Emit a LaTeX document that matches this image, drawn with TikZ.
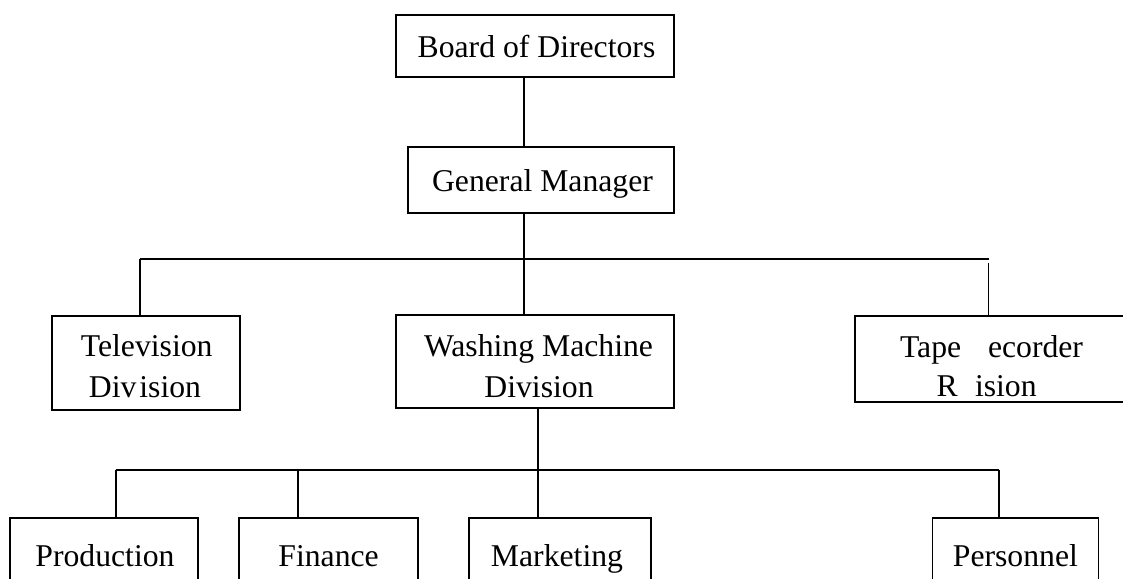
\documentclass[tikz,border=0pt]{standalone}
\usepackage{fontspec}
\setmainfont{Liberation Serif}
\begin{document}
\begin{tikzpicture}[x=1pt,y=-1pt,
  box/.style={draw=black, line width=1.8pt, rectangle, inner sep=0pt, outer sep=0pt},
  lbl/.style={inner sep=0pt, outer sep=0pt, anchor=base, font=\fontsize{31.7}{40.5}\selectfont},
  lblw/.style={inner sep=0pt, outer sep=0pt, anchor=base west, font=\fontsize{31.7}{40.5}\selectfont},
  conn/.style={draw=black, line width=1.8pt}]
\path[use as bounding box] (0,0) rectangle (1123,578);
\clip (0,0) rectangle (1123,578);
% boxes
\node[box, minimum width=278.3pt, minimum height=61.7pt] (bod) at (534.9,45.9) {};
\node[box, minimum width=266.3pt, minimum height=65.7pt] (gm) at (540.9,179.9) {};
\node[box, minimum width=188.3pt, minimum height=94pt] (tv) at (145.9,363) {};
\node[box, minimum width=278.6pt, minimum height=93.3pt] (wm) at (535,361.7) {};
\node[box, minimum width=285pt, minimum height=86pt] (tr) at (997.5,358.7) {};
\node[box, minimum width=188pt, minimum height=82pt] (pr) at (103.6,559) {};
\node[box, minimum width=179pt, minimum height=82pt] (fi) at (328.5,559) {};
\node[box, minimum width=182pt, minimum height=82pt] (mk) at (560,559) {};
\node[box, minimum width=166pt, minimum height=82pt] (pe) at (1015.5,559) {};
% texts
\node[lbl] (bodt) at (536.5,57) {Board of Directors};
\node[lbl] (gmt) at (542.5,191) {General Manager};
\node[lbl] (tvt1) at (146.7,356.5) {Television};
\node[lbl] (tvt2) at (145,397.3) {Div\hspace{3pt}ision};
\node[lbl] (wmt1) at (538.5,356) {Washing Machine};
\node[lbl] (wmt2) at (539,397.3) {Division};
\node[lblw] (trt1) at (900,357.5) {Tape};
\node[lblw] (trt2) at (988,357.5) {ecorder};
\node[lblw] (trt3) at (936.7,396.7) {R};
\node[lblw] (trt4) at (975,396.7) {ision};
\node[lbl] (prt) at (105,566) {Production};
\node[lbl] (fit) at (328.6,566) {Finance};
\node[lbl] (mkt) at (557,566) {Marketing};
\node[lbl] (pet) at (1015.4,566) {Personnel};
% junction coordinates
\coordinate (j1) at (524,259);
\coordinate (jl) at (140,259);
\coordinate (jr) at (988.5,259);
\coordinate (jr2) at (988.5,263);
\coordinate (k1) at (538,470);
\coordinate (kl) at (116,470);
\coordinate (kf) at (298,470);
\coordinate (kr) at (999,470);
% connectors
\draw[conn] (bod.south -| j1) -- (gm.north -| j1);
\draw[conn] (gm.south -| j1) -- (wm.north -| j1);
\draw[conn] (jl) -- (jr);
\draw[conn] (jl) -- (tv.north -| jl);
\draw[conn] (jr2) -- (tr.north -| jr2);
\draw[conn] (wm.south -| k1) -- (mk.north -| k1);
\draw[conn] (kl) -- (kr);
\draw[conn] (kl) -- (pr.north -| kl);
\draw[conn] (kf) -- (fi.north -| kf);
\draw[conn] (kr) -- (pe.north -| kr);
\end{tikzpicture}
\end{document}
